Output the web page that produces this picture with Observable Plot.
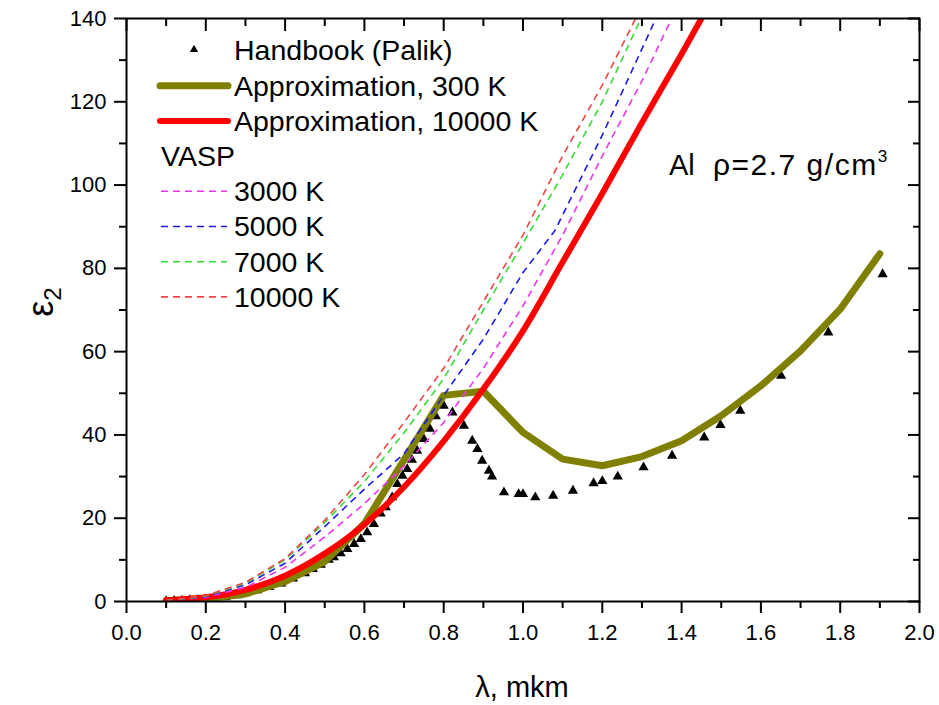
<!DOCTYPE html>
<html><head><meta charset="utf-8">
<script src="https://cdn.jsdelivr.net/npm/d3@7"></script>
<script src="https://cdn.jsdelivr.net/npm/@observablehq/plot@0.6"></script>
<style>
html,body{margin:0;padding:0;background:#fff;}
svg{display:block;}
</style>
</head><body><div id="chart"></div>
<script>
// ---------- data ----------
const palikX = [0.10,0.12,0.14,0.16,0.18,0.20,0.22,0.25,0.28,0.30,0.33,0.36,0.39,0.42,0.45,0.47,0.49,0.51,0.523,0.54,0.557,0.574,0.591,0.607,0.624,0.641,0.654,0.670,0.683,0.696,0.708,0.720,0.733,0.750,0.765,0.780,0.800,0.822,0.851,0.872,0.885,0.897,0.914,0.922,0.952,0.989,1.000,1.031,1.076,1.126,1.178,1.200,1.239,1.304,1.376,1.457,1.498,1.548,1.651,1.770,1.907];
const palikY = [0.1,0.15,0.2,0.3,0.4,0.5,0.7,1.0,1.5,2.0,2.7,3.5,4.3,5.5,6.8,7.8,8.8,10.0,10.6,11.6,12.6,13.8,15.0,16.6,18.6,21.1,22.6,25.0,28.2,30.2,31.8,34.0,36.2,39.0,41.5,44.5,47.0,45.4,42.2,38.6,36.6,33.8,31.4,30.0,26.2,25.8,25.8,25.0,25.4,26.6,28.4,28.9,30.0,32.2,35.0,39.4,42.4,45.8,54.2,64.6,78.6];

const approx300X = [0.1,0.2,0.3,0.4,0.5,0.6,0.7,0.8,0.9,1.0,1.1,1.2,1.3,1.4,1.5,1.6,1.7,1.8,1.9];
const approx300Y = [0.2,0.6,1.8,4.8,9.6,18.7,34.0,49.5,50.5,40.6,34.2,32.6,34.8,38.6,44.6,51.8,60.2,70.2,83.5];

const approx10000X = [0.1,0.2,0.3,0.4,0.5,0.6,0.7,0.8,0.9,1.0,1.1,1.2,1.3,1.4,1.5];
const approx10000Y = [0.3,1.0,2.8,6.2,11.5,18.5,27.5,38.5,51.0,65.0,81.5,98.0,115.0,131.5,148.5];

const vasp3000X = [0.1,0.2,0.3,0.4,0.5,0.6,0.7,0.8,0.9,1.0,1.1,1.2,1.3,1.4];
const vasp3000Y = [0.2,1.0,3.4,8.2,15.5,23.5,32.5,43.0,56.0,71.0,88.0,107.0,125.0,145.0];

const vasp5000X = [0.1,0.2,0.3,0.4,0.5,0.6,0.7,0.8,0.9,1.0,1.08,1.2,1.3,1.4];
const vasp5000Y = [0.2,1.2,4.0,9.2,18.0,27.0,35.5,49.5,63.0,79.0,89.0,112.0,132.7,153.5];

const vasp7000X = [0.1,0.2,0.3,0.4,0.5,0.6,0.7,0.8,0.9,1.0,1.1,1.2,1.3];
const vasp7000Y = [0.2,1.3,4.4,10.0,19.0,28.8,40.5,53.5,70.0,86.0,102.5,120.0,140.5];

const vasp10000X = [0.1,0.2,0.3,0.4,0.5,0.6,0.7,0.8,0.9,1.0,1.1,1.2,1.3];
const vasp10000Y = [0.2,1.4,4.6,10.3,19.5,30.5,43.0,56.0,72.0,88.0,107.0,124.0,143.0];

const xMajor = [0,0.2,0.4,0.6,0.8,1.0,1.2,1.4,1.6,1.8,2.0];
const xMinor = [0.1,0.3,0.5,0.7,0.9,1.1,1.3,1.5,1.7,1.9];
const yMajor = [0,20,40,60,80,100,120,140];
const yMinor = [10,30,50,70,90,110,130];

const legendLabels = ["Handbook (Palik)","Approximation, 300 K","Approximation, 10000 K","VASP","3000 K","5000 K","7000 K","10000 K"];

// ---------- build ----------
const rows = (xs, ys) => xs.map((x, i) => ({x, y: ys[i]}));
const C = {olive:"#808000", red:"#ff0000", mag:"#ee33ee", blue:"#1a1aee", green:"#33dd33", dred:"#ee4444"};
const dash = "7,5";
const noText = () => "";

const chart = Plot.plot({
  width: 939, height: 705,
  marginLeft: 126, marginRight: 20, marginTop: 18, marginBottom: 104,
  style: {fontFamily: "'Liberation Sans', Arial, sans-serif", fontSize: "22px", color: "black", background: "white"},
  x: {domain: [0, 2]},
  y: {domain: [0, 140]},
  marks: [
    Plot.dot(rows(palikX, palikY), {x: "x", y: "y", symbol: "triangle", r: 3.8, fill: "black", stroke: "none", clip: true}),
    Plot.line(rows(approx300X, approx300Y), {x: "x", y: "y", stroke: C.olive, strokeWidth: 7, clip: true}),
    Plot.line(rows(approx10000X, approx10000Y), {x: "x", y: "y", stroke: C.red, strokeWidth: 6, curve: "monotone-x", clip: true}),
    Plot.line(rows(vasp3000X, vasp3000Y), {x: "x", y: "y", stroke: C.mag, strokeWidth: 1.6, strokeDasharray: dash, strokeLinecap: "butt", clip: true}),
    Plot.line(rows(vasp5000X, vasp5000Y), {x: "x", y: "y", stroke: C.blue, strokeWidth: 1.6, strokeDasharray: dash, strokeLinecap: "butt", clip: true}),
    Plot.line(rows(vasp7000X, vasp7000Y), {x: "x", y: "y", stroke: C.green, strokeWidth: 1.6, strokeDasharray: dash, strokeLinecap: "butt", clip: true}),
    Plot.line(rows(vasp10000X, vasp10000Y), {x: "x", y: "y", stroke: C.dred, strokeWidth: 1.6, strokeDasharray: dash, strokeLinecap: "butt", clip: true}),
    Plot.frame({stroke: "black", strokeWidth: 2}),
    Plot.axisX(xMajor, {anchor: "bottom", tickSize: 12, tickPadding: 11, tickFormat: d3.format(".1f"), strokeWidth: 2, label: null}),
    Plot.axisX(xMinor, {anchor: "bottom", tickSize: 7, tickFormat: noText, strokeWidth: 2, label: null}),
    Plot.axisX(xMajor, {anchor: "top", tickSize: -12, tickFormat: noText, strokeWidth: 2, label: null}),
    Plot.axisX(xMinor, {anchor: "top", tickSize: -7, tickFormat: noText, strokeWidth: 2, label: null}),
    Plot.axisY(yMajor, {anchor: "left", tickSize: 12, tickPadding: 8, tickFormat: d3.format("d"), strokeWidth: 2, label: null}),
    Plot.axisY(yMinor, {anchor: "left", tickSize: 7, tickFormat: noText, strokeWidth: 2, label: null}),
    Plot.axisY(yMajor, {anchor: "right", tickSize: -12, tickFormat: noText, strokeWidth: 2, label: null}),
    Plot.axisY(yMinor, {anchor: "right", tickSize: -7, tickFormat: noText, strokeWidth: 2, label: null})
  ]
});

const svg = d3.select(chart);
const font = "'Liberation Sans', Arial, sans-serif";

// axis titles
svg.append("text").attr("x", 522).attr("y", 697).attr("text-anchor", "middle")
  .attr("font-family", font).attr("font-size", 29).attr("fill", "black").text("λ, mkm");
const yt = svg.append("text").attr("transform", "translate(53,302) rotate(-90)")
  .attr("text-anchor", "middle").attr("font-family", font).attr("fill", "black");
yt.append("tspan").attr("font-size", 36).text("ε");
yt.append("tspan").attr("font-size", 24).attr("dy", 8).text("2");

// annotation
const an = svg.append("text").attr("x", 669).attr("y", 175).attr("text-anchor", "start")
  .attr("font-family", font).attr("font-size", 29).attr("fill", "black");
an.append("tspan").text("Al");
an.append("tspan").attr("x", 713).attr("font-size", 30).attr("letter-spacing", 1.5).text("ρ=2.7 g/cm");
an.append("tspan").attr("font-size", 17).attr("dy", -13).text("3");

// legend
const lg = svg.append("g").attr("font-family", font).attr("font-size", 28.5).attr("fill", "black").attr("text-anchor", "start");
const rowY = i => 50.5 + i * 35.2;
const textX = 234;
const kinds = [
  {type: "tri"},
  {type: "line", stroke: C.olive, w: 7},
  {type: "line", stroke: C.red, w: 6},
  {type: "header"},
  {type: "dash", stroke: C.mag},
  {type: "dash", stroke: C.blue},
  {type: "dash", stroke: C.green},
  {type: "dash", stroke: C.dred}
];
legendLabels.forEach((lab, i) => {
  const k = kinds[i], y = rowY(i);
  if (k.type === "tri") {
    lg.append("path").attr("d", d3.symbol(d3.symbolTriangle, 30)()).attr("transform", `translate(194,${y - 1})`).attr("fill", "black");
  } else if (k.type === "line") {
    lg.append("line").attr("x1", 160).attr("x2", 228).attr("y1", y).attr("y2", y)
      .attr("stroke", k.stroke).attr("stroke-width", k.w).attr("stroke-linecap", "round");
  } else if (k.type === "dash") {
    lg.append("line").attr("x1", 161).attr("x2", 227).attr("y1", y).attr("y2", y)
      .attr("stroke", k.stroke).attr("stroke-width", 1.6).attr("stroke-dasharray", dash);
  }
  lg.append("text").attr("x", k.type === "header" ? 161 : textX).attr("y", y).attr("dy", "0.35em")
    .attr("text-anchor", "start").text(lab);
});

document.getElementById("chart").appendChild(chart);
</script>
</body></html>
